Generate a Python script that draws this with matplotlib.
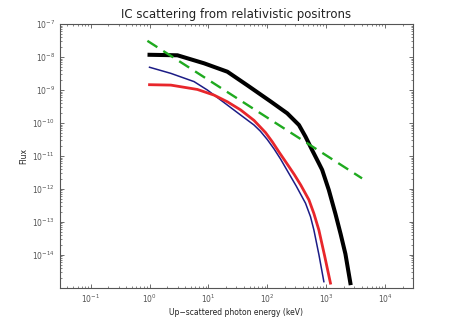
import matplotlib
matplotlib.use('Agg')
import matplotlib.pyplot as plt

# Curves (energy in keV, flux)
black_e = [1.0, 2.98, 8.45, 21.0, 45.6, 114, 218, 345, 446, 579, 752, 855, 1110, 1440,
           1762, 2125, 2580]
black_f = [1.17e-8, 1.13e-8, 6.45e-9, 3.59e-9, 1.4e-9, 4.5e-10, 1.97e-10, 8.7e-11,
           3.85e-11, 1.5e-11, 6.0e-12, 3.8e-12, 9.3e-13, 1.74e-13, 4.3e-14, 1.07e-14,
           1.4e-15]

red_e = [1.0, 2.3, 6.5, 12.5, 21, 35.2, 59.5, 93.6, 121.5, 160, 218, 287, 370, 509,
         619, 752, 943, 1183]
red_f = [1.45e-9, 1.41e-9, 1.04e-9, 7.0e-10, 4.4e-10, 2.5e-10, 1.2e-10, 5.1e-11,
         2.7e-11, 1.28e-11, 5.7e-12, 2.75e-12, 1.32e-12, 4.7e-13, 1.8e-13, 5.7e-14,
         9.3e-15, 1.4e-15]

blue_e = [1.0, 2.3, 5.7, 9.6, 21, 35.2, 59.5, 76, 100, 131.5, 168, 233, 310, 446, 542,
          619, 755, 914]
blue_f = [4.9e-9, 3.2e-9, 1.8e-9, 1.0e-9, 3.5e-10, 1.75e-10, 8.7e-11, 5.7e-11,
          3.16e-11, 1.6e-11, 8.1e-12, 2.95e-12, 1.23e-12, 3.7e-13, 1.45e-13, 5.7e-14,
          1.0e-14, 1.55e-15]

green_e = [0.92, 4070]
green_f = [3.1e-8, 2.1e-12]

gray = '#555555'

fig = plt.figure(figsize=(4.57, 3.25), dpi=100)
ax = fig.add_axes([0.131, 0.114, 0.773, 0.812])

ax.loglog(blue_e, blue_f, color='#1c1c86', lw=1.1, solid_joinstyle='round')
ax.loglog(red_e, red_f, color='#e8262b', lw=2.0, solid_joinstyle='round')
ax.loglog(black_e, black_f, color='black', lw=2.9, solid_joinstyle='round')
ax.loglog(green_e, green_f, color='#1faa1f', lw=1.7, ls=(0, (5, 3)))

ax.set_xlim(0.03, 3e4)
ax.set_ylim(1e-15, 1e-7)

ax.set_xticks([1e-1, 1e0, 1e1, 1e2, 1e3, 1e4])
ax.set_yticks([1e-7, 1e-8, 1e-9, 1e-10, 1e-11, 1e-12, 1e-13, 1e-14])

ax.tick_params(which='both', direction='in', top=True, right=True, colors=gray,
               labelsize=5.5)
ax.tick_params(which='major', length=3, width=0.6)
ax.tick_params(which='minor', length=1.6, width=0.5)
for s in ax.spines.values():
    s.set_color(gray)
    s.set_linewidth(0.8)

ax.set_title('IC scattering from relativistic positrons', fontsize=8.5, color='#222222', pad=4)
ax.set_xlabel('Up\u2212scattered photon energy (keV)', fontsize=5.5, color='#222222', labelpad=2)
ax.set_ylabel('Flux', fontsize=5.5, color='#222222', labelpad=3)

fig.savefig('out.png', dpi=100)
